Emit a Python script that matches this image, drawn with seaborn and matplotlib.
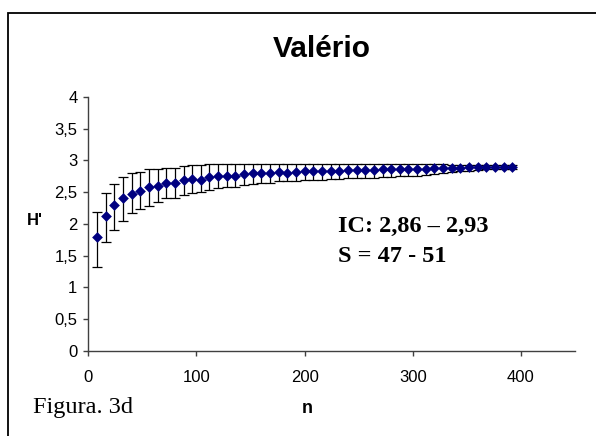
import pandas as pd
import seaborn as sns
import matplotlib.pyplot as plt
from matplotlib.patches import Rectangle
from matplotlib.ticker import FuncFormatter

# -------------------------------
# Dados
# -------------------------------
n_values = [8, 16, 24, 32, 40, 48, 56, 64, 72, 80,
            88, 96, 104, 112, 120, 128, 136, 144, 152, 160,
            168, 176, 184, 192, 200, 208, 216, 224, 232, 240,
            248, 256, 264, 272, 280, 288, 296, 304, 312, 320,
            328, 336, 344, 352, 360, 368, 376, 384, 392]

h_mean = [1.79, 2.13, 2.30, 2.41, 2.47, 2.52, 2.58, 2.60, 2.64, 2.64,
          2.69, 2.71, 2.70, 2.74, 2.76, 2.75, 2.76, 2.78, 2.80, 2.80,
          2.80, 2.82, 2.81, 2.82, 2.84, 2.83, 2.84, 2.83, 2.84, 2.85,
          2.85, 2.85, 2.85, 2.86, 2.86, 2.87, 2.87, 2.87, 2.87, 2.88,
          2.88, 2.88, 2.88, 2.90, 2.90, 2.90, 2.90, 2.90, 2.90]

h_upper = [2.19, 2.48, 2.63, 2.74, 2.80, 2.82, 2.86, 2.87, 2.88, 2.88,
           2.92, 2.93, 2.93, 2.94, 2.94, 2.94, 2.94, 2.94, 2.95, 2.95,
           2.95, 2.95, 2.95, 2.95, 2.95, 2.94, 2.94, 2.94, 2.94, 2.94,
           2.94, 2.94, 2.94, 2.94, 2.94, 2.94, 2.94, 2.94, 2.94, 2.94,
           2.94, 2.93, 2.93, 2.93, 2.93, 2.93, 2.93, 2.93, 2.93]

h_lower = [1.32, 1.71, 1.91, 2.05, 2.17, 2.23, 2.28, 2.35, 2.41, 2.41,
           2.46, 2.49, 2.50, 2.54, 2.56, 2.59, 2.59, 2.62, 2.63, 2.64,
           2.65, 2.67, 2.67, 2.68, 2.69, 2.69, 2.70, 2.71, 2.71, 2.72,
           2.72, 2.73, 2.73, 2.74, 2.74, 2.75, 2.75, 2.76, 2.77, 2.78,
           2.80, 2.82, 2.83, 2.84, 2.85, 2.86, 2.86, 2.87, 2.87]

x_ticks = [0, 100, 200, 300, 400]
y_ticks = [0, 0.5, 1, 1.5, 2, 2.5, 3, 3.5, 4]

df = pd.DataFrame({'n': n_values, 'H': h_mean, 'sup': h_upper, 'inf': h_lower})

# -------------------------------
# Figura
# -------------------------------
sns.set_style('white')
plt.rcParams['font.family'] = ['Liberation Sans', 'DejaVu Sans']
plt.rcParams['text.color'] = 'black'

fig = plt.figure(figsize=(5.96, 4.36), dpi=100)
ax = fig.add_axes([0.1482, 0.195, 0.8166, 0.5826])

# barras de erro
ax.errorbar(df['n'], df['H'],
            yerr=[df['H'] - df['inf'], df['sup'] - df['H']],
            fmt='none', ecolor='black', elinewidth=0.9, capsize=3.5,
            capthick=0.9, zorder=2)

# pontos
sns.scatterplot(data=df, x='n', y='H', marker='D', s=30, color='#000080',
                edgecolor='#000080', linewidth=0, ax=ax, zorder=3)

ax.set_xlim(0, 450)
ax.set_ylim(0, 4)
ax.set_xticks(x_ticks)
ax.set_yticks(y_ticks)
ax.yaxis.set_major_formatter(FuncFormatter(lambda v, p: f'{v:g}'.replace('.', ',')))
ax.set_xlabel('')
ax.set_ylabel('')

for s in ['top', 'right']:
    ax.spines[s].set_visible(False)
for s in ['left', 'bottom']:
    ax.spines[s].set_color('#404040')
    ax.spines[s].set_linewidth(1.0)

ax.tick_params(axis='both', which='major', direction='out', length=3.8,
               width=1.0, color='#404040', labelsize=12, labelcolor='black',
               left=True, bottom=True)
ax.tick_params(axis='x', pad=10)
ax.tick_params(axis='y', pad=4)

# textos
fig.text(322/596, 0.870, 'Valério', ha='center', va='baseline',
         fontsize=21.5, fontweight='bold', color='black')
fig.text(35/596, 1 - 220/436, "H'", ha='center', va='center',
         fontsize=12, fontweight='bold', color='black')
fig.text(307/596, 0.052, 'n', ha='center', va='baseline',
         fontsize=13, fontweight='bold', color='black')
fig.text(0.0549, 0.0535, 'Figura. 3d', ha='left', va='baseline', color='black',
         fontsize=17.5, family=['Liberation Serif', 'DejaVu Serif'])
fig.text(0.567, 0.4686, 'IC: 2,86 – 2,93', ha='left', va='baseline', color='black',
         fontsize=17.5, fontweight='bold', family=['Liberation Serif', 'DejaVu Serif'])
fig.text(0.567, 0.3998, 'S = 47 - 51', ha='left', va='baseline', color='black',
         fontsize=17.5, fontweight='bold', family=['Liberation Serif', 'DejaVu Serif'])

# moldura
fig.patches.append(Rectangle((8/596, -0.1), 1.2, 1.1 - 13/436, transform=fig.transFigure,
                             fill=False, edgecolor='black', linewidth=1.3))

fig.savefig('out.png', dpi=100)
